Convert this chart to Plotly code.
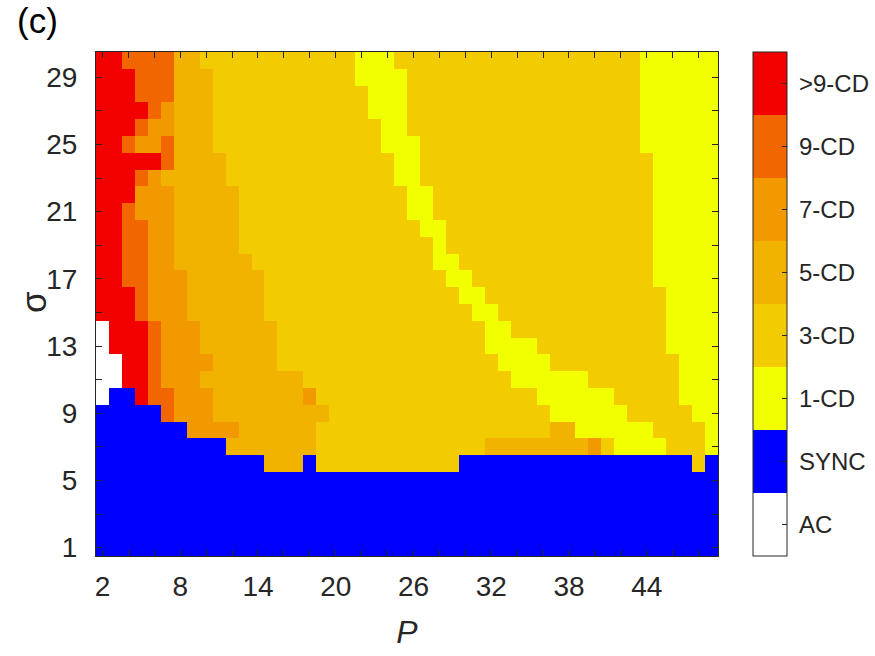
import plotly.graph_objects as go

# ---------------- data ----------------
P_values = list(range(2, 50))        # 48 columns, P = 2..49
sigma_values = list(range(1, 31))    # 30 rows, sigma = 1..30

categories = ["AC", "SYNC", "1-CD", "3-CD", "5-CD", "7-CD", "9-CD", ">9-CD"]
category_colors = ["#FFFFFF", "#0000FF", "#F2FF00", "#F2CC00",
                   "#F2B200", "#F29900", "#F26600", "#F20000"]
code_index = {"A": 0, "S": 1, "1": 2, "3": 3, "5": 4, "7": 5, "9": 6, "R": 7}

# run-length rows (code, number of consecutive P columns) for each sigma
rows_runs = {
    30: [("R", 2), ("9", 4), ("5", 2), ("3", 12), ("1", 3), ("3", 19), ("1", 6)],
    29: [("R", 3), ("9", 3), ("5", 3), ("3", 11), ("1", 4), ("3", 18), ("1", 6)],
    28: [("R", 3), ("9", 3), ("5", 3), ("3", 12), ("1", 3), ("3", 18), ("1", 6)],
    27: [("R", 4), ("9", 1), ("7", 1), ("5", 3), ("3", 12), ("1", 3), ("3", 18), ("1", 6)],
    26: [("R", 3), ("9", 1), ("7", 2), ("5", 3), ("3", 13), ("1", 2), ("3", 18), ("1", 6)],
    25: [("R", 2), ("9", 1), ("7", 2), ("9", 1), ("5", 3), ("3", 13), ("1", 3), ("3", 17), ("1", 6)],
    24: [("R", 5), ("9", 1), ("5", 4), ("3", 13), ("1", 2), ("3", 18), ("1", 5)],
    23: [("R", 3), ("9", 1), ("7", 1), ("5", 5), ("3", 13), ("1", 2), ("3", 18), ("1", 5)],
    22: [("R", 3), ("7", 3), ("5", 5), ("3", 13), ("1", 2), ("3", 17), ("1", 5)],
    21: [("R", 2), ("9", 1), ("7", 3), ("5", 5), ("3", 13), ("1", 2), ("3", 17), ("1", 5)],
    20: [("R", 2), ("9", 2), ("7", 2), ("5", 5), ("3", 14), ("1", 2), ("3", 16), ("1", 5)],
    19: [("R", 2), ("9", 2), ("7", 2), ("5", 5), ("3", 15), ("1", 1), ("3", 16), ("1", 5)],
    18: [("R", 2), ("9", 2), ("7", 2), ("5", 6), ("3", 14), ("1", 2), ("3", 15), ("1", 5)],
    17: [("R", 2), ("9", 2), ("7", 3), ("5", 6), ("3", 14), ("1", 2), ("3", 14), ("1", 5)],
    16: [("R", 3), ("9", 1), ("7", 3), ("5", 6), ("3", 15), ("1", 2), ("3", 14), ("1", 4)],
    15: [("R", 3), ("9", 1), ("7", 3), ("5", 6), ("3", 16), ("1", 2), ("3", 13), ("1", 4)],
    14: [("A", 1), ("R", 3), ("9", 1), ("7", 3), ("5", 6), ("3", 16), ("1", 2), ("3", 12), ("1", 4)],
    13: [("A", 1), ("R", 3), ("9", 1), ("7", 3), ("5", 6), ("3", 16), ("1", 4), ("3", 10), ("1", 4)],
    12: [("A", 2), ("R", 2), ("9", 1), ("7", 4), ("5", 5), ("3", 17), ("1", 4), ("3", 10), ("1", 3)],
    11: [("A", 2), ("R", 2), ("9", 1), ("7", 3), ("5", 8), ("3", 16), ("1", 6), ("3", 7), ("1", 3)],
    10: [("A", 1), ("S", 2), ("R", 1), ("9", 2), ("7", 3), ("5", 7), ("7", 1), ("3", 17), ("1", 6), ("3", 5), ("1", 3)],
    9:  [("S", 5), ("9", 1), ("7", 3), ("5", 9), ("3", 17), ("1", 6), ("3", 5), ("1", 2)],
    8:  [("S", 7), ("7", 4), ("5", 6), ("3", 18), ("5", 2), ("1", 6), ("3", 4), ("1", 1)],
    7:  [("S", 10), ("5", 7), ("3", 13), ("5", 8), ("7", 1), ("3", 1), ("1", 4), ("3", 3), ("1", 1)],
    6:  [("S", 13), ("5", 3), ("S", 1), ("3", 11), ("S", 18), ("3", 1), ("S", 1)],
    5:  [("S", 48)],
    4:  [("S", 48)],
    3:  [("S", 48)],
    2:  [("S", 48)],
    1:  [("S", 48)],
}

x_tick_positions = list(range(2, 49, 2))
x_tick_labels = [2, 8, 14, 20, 26, 32, 38, 44]
y_tick_positions = list(range(1, 30, 2))
y_tick_labels = [1, 5, 9, 13, 17, 21, 25, 29]

# ---------------- build grid ----------------
def expand(runs):
    out = []
    for code, n in runs:
        out.extend([code_index[code]] * n)
    assert len(out) == len(P_values)
    return out

z = [expand(rows_runs[s]) for s in sigma_values]

ncat = len(categories)
colorscale = []
for i, c in enumerate(category_colors):
    colorscale.append([i / ncat, c])
    colorscale.append([(i + 1) / ncat, c])

ink = "#262626"
font_family = "Liberation Sans, Arial, Helvetica, sans-serif"

# plot-area geometry in pixels (for paper-coordinate placement of text)
L, R, T, B = 96, 718, 52, 558
PW, PH = R - L, B - T

fig = go.Figure(go.Heatmap(
    x=P_values, y=sigma_values, z=z,
    colorscale=colorscale, zmin=-0.5, zmax=ncat - 0.5,
    showscale=True,
    colorbar=dict(
        tickmode="array", tickvals=list(range(ncat)), showticklabels=False,
        thickness=34, thicknessmode="pixels",
        len=1, lenmode="fraction", y=0.5, yanchor="middle",
        x=(753 - L) / PW, xanchor="left", xpad=0, ypad=0,
        outlinewidth=1, outlinecolor=ink,
        ticks="inside", ticklen=5, tickcolor=ink, tickwidth=1,
    ),
    hoverinfo="skip",
))

# colorbar category labels
for i, name in enumerate(categories):
    fig.add_annotation(
        text=name, xref="paper", yref="paper",
        x=(797 - L) / PW, y=(i + 0.5) / ncat,
        xanchor="left", yanchor="middle", showarrow=False,
        font=dict(family=font_family, size=24, color=ink),
    )

fig.update_xaxes(
    range=[1.5, 49.5], showgrid=False, zeroline=False,
    showline=True, linecolor=ink, linewidth=1, mirror="ticks",
    ticks="inside", ticklen=6, tickwidth=1, tickcolor=ink,
    tickmode="array", tickvals=x_tick_positions,
    ticktext=[str(v) if v in x_tick_labels else "" for v in x_tick_positions],
    tickfont=dict(family=font_family, size=28, color=ink),
    ticklabelstandoff=5,
    title=dict(text="<i>P</i>", font=dict(family=font_family, size=32, color=ink), standoff=20),
)
fig.update_yaxes(
    range=[0.5, 30.5], showgrid=False, zeroline=False,
    showline=True, linecolor=ink, linewidth=1, mirror="ticks",
    ticks="inside", ticklen=6, tickwidth=1, tickcolor=ink,
    tickmode="array", tickvals=y_tick_positions,
    ticktext=[str(v) if v in y_tick_labels else "" for v in y_tick_positions],
    tickfont=dict(family=font_family, size=28, color=ink),
    ticklabelstandoff=12,
)

# sigma axis label (rotated)
fig.add_annotation(
    text="σ", xref="paper", yref="paper",
    x=(33 - L) / PW, y=(B - 303) / PH,
    xanchor="center", yanchor="middle", showarrow=False, textangle=-90,
    font=dict(family=font_family, size=35, color=ink),
)

fig.add_annotation(
    text="(c)", xref="paper", yref="paper",
    x=(37 - L) / PW, y=(B - 20) / PH,
    xanchor="center", yanchor="middle", showarrow=False,
    font=dict(family=font_family, size=35, color="#000000"),
)

fig.update_layout(
    width=875, height=656,
    margin=dict(l=L, r=875 - R, t=T, b=656 - B),
    paper_bgcolor="white", plot_bgcolor="white",
    font=dict(family=font_family, color=ink),
)

fig.write_html("out.html")
